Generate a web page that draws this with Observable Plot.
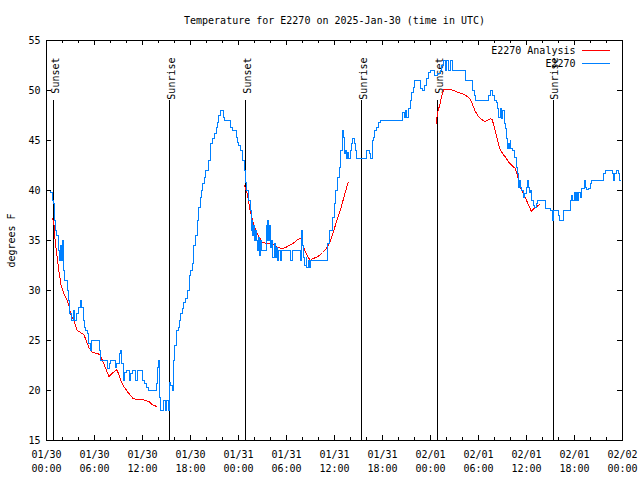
<!DOCTYPE html>
<html><head><meta charset="utf-8">
<script src="https://cdn.jsdelivr.net/npm/d3@7"></script>
<script src="https://cdn.jsdelivr.net/npm/@observablehq/plot@0.6"></script>
<style>html,body{margin:0;padding:0;background:#fff} svg{display:block}</style>
</head><body><div id="chart"></div>
<script>
const chartTitle = "Temperature for E2270 on 2025-Jan-30 (time in UTC)";
const yLabel = "degrees F";
const seriesNames = ["E2270 Analysis", "E2270"];
const seriesColors = ["#ff0000", "#0080ff"];
const startUTC = Date.UTC(2025, 0, 30);
const xTickHours = [0, 6, 12, 18, 24, 30, 36, 42, 48, 54, 60, 66, 72];
const xMinorHours = [2, 4, 8, 10, 14, 16, 20, 22, 26, 28, 32, 34, 38, 40, 44, 46, 50, 52, 56, 58, 62, 64, 68, 70];
const yTicks = [15, 20, 25, 30, 35, 40, 45, 50, 55];
const eventHours = [0.92, 15.4, 24.93, 39.37, 48.92, 63.33];
const eventLabels = ["Sunset", "Sunrise", "Sunset", "Sunrise", "Sunset", "Sunrise"];

// observed station temperature [hours since 01/30 00:00 UTC, degrees F]
const observed = [
[0,40],[0.55,39.8],[0.75,39],[0.92,38.7],[1.0,37],[1.1,36],[1.3,35.5],[1.5,34],[1.62,33],[1.75,34.5],[1.83,33],[1.95,35],
[2.1,32],[2.3,31],[2.65,30],[2.8,29],[2.9,27.7],[3.1,27],[3.4,28],[3.55,27],[3.8,27.7],[4.0,28.3],[4.2,29],[4.4,28.3],
[4.6,27],[4.75,26.3],[4.9,26],[5.1,25.7],[5.25,24.7],[5.45,24],[5.65,25],[6.6,24],[6.8,23],[7.65,22.2],[7.85,22.7],[7.95,23],
[8.6,22.3],[8.8,22.7],[9.1,23.7],[9.25,24],[9.4,22.7],[9.6,21],[9.8,21.8],[10.0,22],[10.35,21],[10.55,21.7],[10.75,22],
[11.15,21],[11.35,22],[11.95,21],[12.2,20.7],[12.45,20.3],[12.7,20],[13.7,20.7],[13.85,22.3],[14.0,23],[14.1,19.3],[14.25,18],
[14.65,19],[14.85,18],[15.0,19],[15.2,18],[15.35,20.8],[15.55,20.5],[15.7,20],[15.85,23],[16.05,24.5],[16.2,26],[16.45,26.3],
[16.6,27],[16.8,27.7],[16.95,28.2],[17.1,28.8],[17.4,29.2],[17.6,30],[17.85,31.5],[18.0,32],[18.25,32.7],[18.4,34.5],
[18.65,35.5],[18.85,37],[19.0,38.3],[19.2,39.3],[19.35,40],[19.5,40.7],[19.7,41.3],[19.85,42],[20.2,43],[20.55,44.7],
[20.75,45.2],[21.0,45.7],[21.2,46.3],[21.4,46.8],[21.55,47.5],[21.7,48],[22.1,47.3],[22.3,47],[22.95,46.3],[23.3,46],
[23.7,45.3],[23.9,44.8],[24.0,44.5],[24.2,44],[24.5,43],[24.7,42],[24.85,40.8],[25.0,40],[25.25,39],[25.45,38],[25.6,36],
[25.7,37],[25.8,35.5],[25.9,36.5],[26.0,35],[26.1,36],[26.25,35],[26.4,34],[26.5,35.3],[26.6,33.5],[26.75,35],[26.9,34],
[27.45,36.5],[27.55,35],[27.65,37],[27.8,35],[27.9,36.5],[28.0,34.3],[28.15,35],[28.3,33.3],[28.45,34.7],[28.6,33.3],
[28.75,34.3],[28.9,33],[29.05,34],[29.2,33],[29.35,34],[30.55,33],[30.75,34],[31.7,33],[31.85,36],[32.0,34.5],[32.15,33.3],
[32.3,32.5],[32.45,33.3],[32.55,32.3],[32.7,33],[32.85,32.3],[33.0,33],[35.1,34.7],[35.4,36],[35.7,37.3],[35.95,38.7],
[36.15,40],[36.4,41.3],[36.6,42.3],[36.8,44],[36.95,46],[37.1,45.3],[37.25,43.7],[37.4,44],[37.5,43.2],[37.6,43.8],
[37.75,43.2],[37.95,44],[38.15,44.7],[38.3,45.2],[38.45,44.7],[38.6,44],[38.8,43.2],[40.05,44],[40.4,43.7],[40.55,43.2],
[40.7,45],[40.85,45.3],[41.0,46],[41.2,46.3],[41.45,46.8],[41.7,47],[44.55,47.8],[44.7,47.3],[44.85,48],[45.05,47.3],
[45.25,48.2],[45.45,49],[45.65,49.8],[45.85,50.3],[46.05,51],[46.8,50.2],[46.95,50],[47.2,50.5],[47.45,51.2],[47.75,51.8],
[48.0,52],[48.5,51.5],[48.85,51.7],[49.2,52],[49.4,52.5],[49.6,53],[49.85,52],[50.05,53],[50.25,52],[50.45,53],[50.75,52],
[52.35,51],[53.25,50],[53.45,49.5],[53.6,49],[55.25,49.5],[55.45,50],[55.75,49.5],[55.95,49],[56.2,48.8],[56.35,48.2],
[56.55,47.3],[56.7,48.2],[56.85,47.2],[57.0,48],[57.2,46.7],[57.35,46.2],[57.45,45.2],[57.6,44.2],[57.75,44.7],[57.85,44.2],
[57.95,45],[58.05,44.2],[58.3,44],[58.5,43.3],[58.7,42.3],[58.85,41.7],[58.95,40.3],[59.1,41],[59.25,40.3],[59.4,40],
[59.6,39.3],[59.8,39.7],[59.95,40.3],[60.1,41],[60.25,40.3],[60.35,39.8],[60.5,40],[60.65,39],[60.85,38.5],[61.0,38.3],
[61.2,38.7],[61.35,39],[62.35,38.2],[63.0,38],[63.2,37],[63.4,38],[63.95,37.5],[64.15,37],[64.6,38],[65.45,39],[65.65,39.5],
[65.75,39],[65.95,39.8],[66.1,39],[66.25,39.8],[66.4,39],[66.55,39.8],[66.7,39.3],[66.9,40.2],[67.25,41],[67.35,40.3],
[67.5,40.1],[67.7,40.2],[67.95,40.7],[68.1,41],[69.6,41.7],[69.85,42],[70.7,41.7],[70.85,41],[71.05,41.7],[71.25,42],
[71.45,41.7],[71.6,41],[71.75,41]
];

// analysis temperature, one list per night
const analysisNight1 = [
[0.75,37.2],[0.92,36.8],[1.08,35],[1.33,33.3],[1.54,32],[1.83,30.5],[2.17,29.7],[2.58,29],[2.79,28.5],[3.0,27.7],[3.42,27],
[3.83,26],[4.25,25.8],[4.67,25.6],[4.96,25],[5.29,24.3],[5.71,23.8],[6.33,23.7],[6.67,23.6],[7.0,23],[7.4,22.2],[7.8,21.4],
[8.2,21.7],[8.75,22.1],[9.0,21.7],[9.4,20.8],[9.75,20.3],[10.2,19.8],[10.5,19.5],[10.83,19.2],[11.3,19.1],[12.0,19.1],
[12.4,19.0],[12.8,18.9],[13.2,18.6],[13.75,18.4]
];
const analysisNight2 = [
[24.75,40.5],[25.1,39.7],[25.3,38.7],[25.5,37.8],[25.7,37.2],[25.9,36.5],[26.3,35.8],[26.6,35.3],[27.0,34.8],[27.6,34.7],
[28.3,34.6],[28.9,34.3],[29.5,34.2],[29.9,34.3],[30.3,34.5],[31.0,34.8],[31.4,35.1],[31.8,35.2],[32.0,34.7],[32.3,34],
[32.7,33.3],[33.0,33],[33.3,33.2],[33.7,33.3],[34.1,33.5],[34.5,33.8],[35.0,34.2],[35.4,34.8],[35.8,35.7],[36.1,36.5],
[36.5,37.5],[36.9,38.5],[37.3,39.7],[37.7,40.8]
];
const analysisNight3 = [
[48.7,46.7],[48.9,47.8],[49.2,48.7],[49.4,49.5],[49.67,50.1],[50.5,50.1],[50.9,50],[51.5,49.8],[52.2,49.6],[52.6,49.4],
[52.9,49.2],[53.2,48.7],[53.6,47.9],[54.0,47.4],[54.4,47.1],[54.75,46.9],[55.1,47],[55.5,47.2],[55.7,47.1],[56.0,46.3],
[56.3,45.3],[56.6,44.3],[57.0,43.7],[57.4,43.3],[57.8,42.8],[58.2,42.5],[58.6,42.2],[58.8,41.7],[59.0,41],[59.25,40.3],
[59.5,39.8],[59.75,39.5],[60.0,39],[60.3,38.5],[60.6,37.9],[60.9,38.2],[61.3,38.4],[61.6,38.6]
];

const toDate = h => new Date(startUTC + h * 3600e3);
const obsRows = observed.map(([h, t]) => ({date: toDate(h), temp: t}));
const anaRows = [analysisNight1, analysisNight2, analysisNight3].flatMap((night, i) =>
  night.map(([h, t]) => ({date: toDate(h), temp: t, night: i})));
const events = eventHours.map((h, i) => ({date: toDate(h), label: eventLabels[i]}));
const majorTicks = xTickHours.map(toDate);
const minorTicks = xMinorHours.map(toDate);
const fmt = d3.utcFormat("%m/%d\n%H:%M");
const font = "DejaVu Sans Mono, Liberation Mono, monospace";
const crisp = {stroke: "#000", shapeRendering: "crispEdges"};

const plot = Plot.plot({
  width: 640, height: 480,
  marginLeft: 46, marginRight: 18, marginTop: 40, marginBottom: 40,
  style: {fontFamily: font, fontSize: "10px", background: "#fff", color: "#000", overflow: "visible"},
  x: {type: "utc", domain: [toDate(0), toDate(72)]},
  y: {domain: [15, 55]},
  marks: [
    Plot.ruleX(events, {x: "date", insetTop: 60, ...crisp}),
    Plot.text(events, {x: "date", text: "label", frameAnchor: "top", rotate: -90, textAnchor: "end", lineAnchor: "middle", dy: 17, dx: 2}),
    Plot.line(anaRows, {x: "date", y: "temp", z: "night", stroke: seriesColors[0], strokeWidth: 1, shapeRendering: "crispEdges"}),
    Plot.line(obsRows, {x: "date", y: "temp", curve: "step-after", stroke: seriesColors[1], strokeWidth: 1, shapeRendering: "crispEdges"}),
    Plot.frame(crisp),
    // inward tick marks (gnuplot style, mirrored on all sides)
    Plot.ruleX(majorTicks, {x: d => d, insetTop: 395, ...crisp}),
    Plot.ruleX(minorTicks, {x: d => d, insetTop: 397, ...crisp}),
    Plot.ruleX(majorTicks, {x: d => d, insetBottom: 395, ...crisp}),
    Plot.ruleX(minorTicks, {x: d => d, insetBottom: 397, ...crisp}),
    Plot.ruleY(yTicks, {y: d => d, insetRight: 571, ...crisp}),
    Plot.ruleY(yTicks, {y: d => d, insetLeft: 571, ...crisp}),
    Plot.axisX(majorTicks, {anchor: "bottom", tickSize: 0, tickPadding: 8, tickFormat: fmt, lineHeight: 1.4, label: null}),
    Plot.axisY(yTicks, {anchor: "left", tickSize: 0, tickPadding: 6, label: null}),
    Plot.text([chartTitle], {frameAnchor: "top", lineAnchor: "middle", dy: -20}),
    Plot.text([yLabel], {frameAnchor: "left", rotate: -90, textAnchor: "middle", lineAnchor: "middle", dx: -35}),
    Plot.text([seriesNames[0]], {frameAnchor: "top-right", textAnchor: "end", lineAnchor: "middle", dx: -47, dy: 10}),
    Plot.text([seriesNames[1]], {frameAnchor: "top-right", textAnchor: "end", lineAnchor: "middle", dx: -47, dy: 23})
  ]
});
document.getElementById("chart").appendChild(plot);

// legend line samples
const svg = d3.select(plot);
[0, 1].forEach(i => {
  svg.append("line")
    .attr("x1", 582).attr("x2", 610)
    .attr("y1", 50.5 + 13 * i).attr("y2", 50.5 + 13 * i)
    .attr("stroke", seriesColors[i]).attr("stroke-width", 1)
    .attr("shape-rendering", "crispEdges");
});
</script></body></html>
